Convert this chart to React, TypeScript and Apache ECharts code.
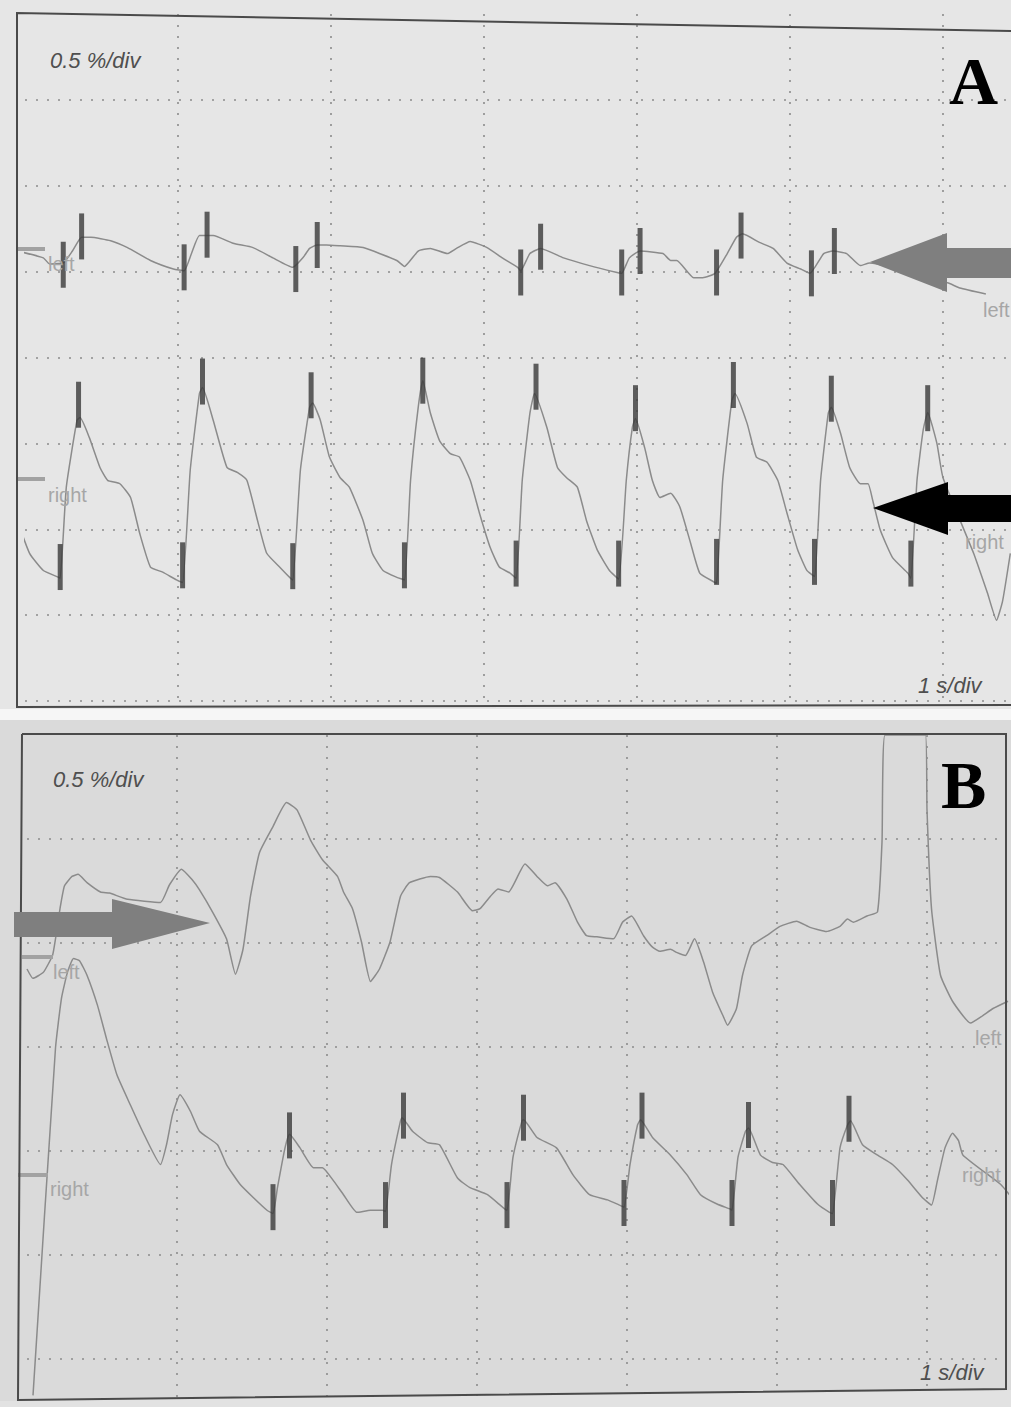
import { useEffect, useRef } from "react";
import * as echarts from "echarts";

type P = [number, number];

// Scale texts and channel names as printed on the recorder
const yScaleLabel = "0.5 %/div";
const xScaleLabel = "1 s/div";
const channelNames = ["left", "right"];
const panelLetters = ["A", "B"];

// ---------- Panel A (time in s, 1 s/div; signal in divisions, 0.5 %/div, 0 = bottom of display)
const aLeftTrace: P[] = [
  [-0.05, 5.24], [0.12, 5.16], [0.16, 5.09], [0.25, 5.1], [0.31, 5.24], [0.37, 5.4], [0.43, 5.4],
  [0.56, 5.36], [0.67, 5.28], [0.82, 5.13], [0.97, 5.03], [1.04, 5.01], [1.09, 5.22], [1.14, 5.42],
  [1.23, 5.42], [1.36, 5.33], [1.49, 5.28], [1.62, 5.16], [1.75, 5.05], [1.82, 5.17], [1.86, 5.27],
  [1.91, 5.31], [1.97, 5.31], [2.06, 5.3], [2.21, 5.28], [2.43, 5.13], [2.48, 5.06], [2.57, 5.24],
  [2.65, 5.27], [2.76, 5.21], [2.82, 5.27], [2.91, 5.35], [3.02, 5.28], [3.12, 5.16], [3.22, 5.05],
  [3.24, 5.01], [3.3, 5.21], [3.37, 5.27], [3.52, 5.16], [3.69, 5.07], [3.87, 4.99], [3.9, 4.98],
  [3.95, 5.16], [4.02, 5.24], [4.17, 5.21], [4.22, 5.13], [4.26, 5.13], [4.37, 4.93], [4.43, 4.93],
  [4.51, 4.98], [4.59, 5.21], [4.65, 5.4], [4.69, 5.44], [4.8, 5.34], [4.89, 5.27], [4.98, 5.1],
  [5.07, 5.03], [5.13, 4.98], [5.22, 5.21], [5.28, 5.24], [5.37, 5.21], [5.46, 5.07], [5.52, 5.1],
  [6.03, 4.87], [6.11, 4.81], [6.28, 4.74],
];
const aLeftTroughs: P[] = [
  [0.25, 5.08], [1.04, 5.05], [1.77, 5.03], [3.24, 4.99], [3.9, 4.99], [4.52, 4.99], [5.14, 4.98],
];
const aLeftPeaks: P[] = [
  [0.37, 5.41], [1.19, 5.43], [1.91, 5.31], [3.37, 5.29], [4.02, 5.24], [4.68, 5.42], [5.29, 5.24],
];

const aRightTrace: P[] = [
  [-0.05, 2.1], [0.03, 1.72], [0.12, 1.52], [0.22, 1.44], [0.23, 1.43], [0.27, 2.49], [0.34, 3.27],
  [0.36, 3.3], [0.42, 3.07], [0.49, 2.72], [0.54, 2.57], [0.62, 2.53], [0.69, 2.37], [0.75, 1.95],
  [0.82, 1.56], [0.9, 1.5], [0.99, 1.41], [1.03, 1.38], [1.08, 2.69], [1.14, 3.58], [1.16, 3.65],
  [1.23, 3.27], [1.32, 2.72], [1.39, 2.66], [1.45, 2.57], [1.52, 2.1], [1.58, 1.72], [1.67, 1.55],
  [1.73, 1.44], [1.75, 1.41], [1.8, 2.69], [1.86, 3.42], [1.88, 3.47], [1.93, 3.27], [1.99, 2.84],
  [2.06, 2.6], [2.12, 2.49], [2.21, 2.1], [2.27, 1.72], [2.34, 1.52], [2.43, 1.44], [2.48, 1.41],
  [2.52, 2.57], [2.57, 3.42], [2.6, 3.73], [2.65, 3.35], [2.71, 3.03], [2.78, 2.88], [2.84, 2.84],
  [2.91, 2.57], [2.97, 2.19], [3.04, 1.79], [3.1, 1.56], [3.17, 1.49], [3.21, 1.43], [3.25, 2.57],
  [3.3, 3.35], [3.33, 3.58], [3.41, 3.19], [3.48, 2.72], [3.54, 2.6], [3.61, 2.49], [3.67, 2.1],
  [3.74, 1.76], [3.82, 1.52], [3.88, 1.42], [3.93, 2.57], [3.97, 3.19], [3.99, 3.29], [4.05, 2.95],
  [4.1, 2.57], [4.15, 2.37], [4.22, 2.42], [4.28, 2.26], [4.35, 1.84], [4.41, 1.49], [4.51, 1.38],
  [4.52, 1.37], [4.56, 2.57], [4.62, 3.5], [4.64, 3.58], [4.72, 3.23], [4.78, 2.84], [4.85, 2.78],
  [4.92, 2.57], [4.98, 2.19], [5.05, 1.76], [5.11, 1.52], [5.16, 1.45], [5.2, 2.57], [5.25, 3.35],
  [5.27, 3.42], [5.33, 3.12], [5.39, 2.72], [5.46, 2.53], [5.51, 2.53], [5.54, 2.34], [5.59, 1.99],
  [5.67, 1.67], [5.77, 1.49], [5.79, 1.43], [5.83, 2.57], [5.87, 3.15], [5.9, 3.36], [5.96, 3.0],
  [6.0, 2.6], [6.2, 1.72], [6.29, 1.26], [6.35, 0.94], [6.39, 1.17], [6.44, 1.72],
];
const aRightTroughs: P[] = [
  [0.23, 1.56], [1.03, 1.58], [1.75, 1.57], [2.48, 1.58], [3.21, 1.6], [3.88, 1.6], [4.52, 1.62],
  [5.16, 1.62], [5.79, 1.6],
];
const aRightPeaks: P[] = [
  [0.35, 3.45], [1.16, 3.72], [1.87, 3.56], [2.6, 3.73], [3.34, 3.66], [3.99, 3.41], [4.63, 3.68],
  [5.27, 3.52], [5.9, 3.41],
];

// ---------- Panel B (7 = top of display; the left channel saturates at the top near 5.7-6 s)
const bLeftTrace: P[] = [
  [0, 4.75], [0.04, 4.66], [0.11, 4.72], [0.17, 4.88], [0.19, 5.04], [0.22, 5.33], [0.25, 5.55],
  [0.3, 5.64], [0.34, 5.66], [0.4, 5.58], [0.49, 5.49], [0.55, 5.48], [0.67, 5.42], [0.89, 5.39],
  [0.95, 5.56], [1.03, 5.71], [1.1, 5.61], [1.15, 5.51], [1.24, 5.29], [1.33, 5.04], [1.39, 4.7],
  [1.44, 4.94], [1.49, 5.45], [1.55, 5.87], [1.64, 6.12], [1.73, 6.35], [1.8, 6.28], [1.89, 5.99],
  [1.97, 5.8], [2.07, 5.64], [2.11, 5.49], [2.17, 5.33], [2.23, 5.01], [2.29, 4.63], [2.35, 4.75],
  [2.42, 5.01], [2.49, 5.45], [2.55, 5.58], [2.69, 5.64], [2.75, 5.63], [2.87, 5.49], [2.97, 5.31],
  [3.02, 5.33], [3.09, 5.45], [3.14, 5.52], [3.21, 5.49], [3.32, 5.76], [3.4, 5.64], [3.47, 5.55],
  [3.52, 5.58], [3.6, 5.42], [3.67, 5.2], [3.73, 5.07], [3.8, 5.06], [3.91, 5.04], [3.97, 5.2],
  [4.03, 5.26], [4.11, 5.07], [4.17, 4.96], [4.22, 4.92], [4.29, 4.94], [4.33, 4.91], [4.39, 4.88],
  [4.45, 5.04], [4.51, 4.82], [4.57, 4.53], [4.64, 4.3], [4.67, 4.21], [4.73, 4.37], [4.77, 4.69],
  [4.83, 4.97], [4.93, 5.07], [5.02, 5.16], [5.13, 5.21], [5.22, 5.15], [5.33, 5.11], [5.42, 5.16],
  [5.47, 5.23], [5.51, 5.2], [5.6, 5.26], [5.67, 5.3], [5.7, 5.97], [5.72, 7], [5.99, 7], [6.0, 6.28],
  [6.03, 5.33], [6.09, 4.69], [6.17, 4.44], [6.29, 4.23], [6.37, 4.3], [6.44, 4.37], [6.54, 4.44],
];
const bRightTrace: P[] = [
  [0.04, 0.65], [0.19, 3.99], [0.23, 4.47], [0.27, 4.72], [0.31, 4.85], [0.35, 4.83], [0.4, 4.69],
  [0.47, 4.4], [0.53, 4.08], [0.6, 3.73], [0.69, 3.44], [0.77, 3.19], [0.89, 2.87], [0.93, 3.06],
  [0.97, 3.35], [1.02, 3.54], [1.09, 3.38], [1.15, 3.19], [1.27, 3.06], [1.33, 2.87], [1.42, 2.68],
  [1.51, 2.55], [1.6, 2.43], [1.64, 2.4], [1.67, 2.65], [1.72, 3.03], [1.75, 3.16], [1.82, 3.03],
  [1.91, 2.84], [1.97, 2.84], [2.04, 2.72], [2.11, 2.58], [2.2, 2.41], [2.29, 2.43], [2.37, 2.43],
  [2.39, 2.42], [2.43, 2.87], [2.49, 3.29], [2.5, 3.32], [2.57, 3.19], [2.67, 3.08], [2.75, 3.06],
  [2.87, 2.74], [2.95, 2.65], [3.07, 2.58], [3.17, 2.46], [3.2, 2.43], [3.24, 2.94], [3.3, 3.29],
  [3.31, 3.3], [3.4, 3.13], [3.53, 3.03], [3.64, 2.77], [3.75, 2.58], [3.87, 2.53], [3.95, 2.48],
  [3.98, 2.46], [4.02, 2.87], [4.07, 3.25], [4.09, 3.3], [4.17, 3.13], [4.29, 2.96], [4.4, 2.77],
  [4.49, 2.58], [4.6, 2.49], [4.69, 2.44], [4.7, 2.43], [4.74, 2.94], [4.79, 3.19], [4.81, 3.22],
  [4.89, 2.96], [4.97, 2.89], [5.04, 2.87], [5.15, 2.68], [5.27, 2.49], [5.35, 2.41], [5.37, 2.4],
  [5.42, 3.03], [5.47, 3.25], [5.49, 3.29], [5.57, 3.06], [5.67, 2.96], [5.77, 2.87], [5.87, 2.72],
  [5.97, 2.55], [6.03, 2.48], [6.07, 2.72], [6.12, 3.03], [6.17, 3.17], [6.21, 3.1], [6.24, 2.96],
  [6.49, 2.68], [6.55, 2.58],
];
const bRightTroughs: P[] = [
  [1.64, 2.46], [2.39, 2.48], [3.2, 2.48], [3.98, 2.5], [4.7, 2.5], [5.37, 2.5],
];
const bRightPeaks: P[] = [
  [1.75, 3.15], [2.51, 3.34], [3.31, 3.32], [4.1, 3.34], [4.81, 3.25], [5.48, 3.31],
];

const TRACE = "#8b8b8b";
const BAR = "#3a3a3a";
const DOT = "#8c8c8c";
const LABEL = "#a6a6a6";
const SCALE_TXT = "#4f4f4f";
const FRAME = "#4a4a4a";

function splitStyle(extra: any = {}) {
  return {
    show: true,
    showMinLine: false,
    ...extra,
    lineStyle: { color: DOT, width: 1.6, type: [2, 9] },
  };
}

function axisBase() {
  return {
    type: "value" as const,
    axisLine: { show: false },
    axisTick: { show: false },
    axisLabel: { show: false },
  };
}

function traceSeries(data: P[], grid: number) {
  return {
    type: "line",
    xAxisIndex: grid,
    yAxisIndex: grid,
    data,
    showSymbol: false,
    smooth: 0.15,
    clip: false,
    lineStyle: { color: TRACE, width: 1.5 },
    z: 2,
    silent: true,
  };
}

function barSeries(data: P[], grid: number) {
  return {
    type: "scatter",
    xAxisIndex: grid,
    yAxisIndex: grid,
    data,
    symbol: "rect",
    symbolSize: [5, 46],
    itemStyle: { color: BAR },
    clip: false,
    z: 4,
    silent: true,
  };
}

function txt(text: string, x: number, y: number, size: number, fill: string, extra: any = {}) {
  return {
    type: "text",
    x,
    y,
    z: 20,
    silent: true,
    style: {
      text,
      fill,
      fontSize: size,
      fontFamily: "Liberation Sans",
      align: "left",
      verticalAlign: "middle",
      ...extra,
    },
  };
}

function marker(x1: number, x2: number, y: number) {
  return {
    type: "line",
    z: 20,
    silent: true,
    shape: { x1, y1: y, x2, y2: y },
    style: { stroke: "#a2a2a2", lineWidth: 4 },
  };
}

const graphic: any[] = [
  { type: "rect", z: -100, silent: true, shape: { x: 0, y: 0, width: 1011, height: 709 }, style: { fill: "#e6e6e6" } },
  { type: "rect", z: -100, silent: true, shape: { x: 0, y: 709, width: 1011, height: 11 }, style: { fill: "#f6f6f6" } },
  { type: "rect", z: -100, silent: true, shape: { x: 0, y: 720, width: 1011, height: 687 }, style: { fill: "#dadada" } },
  // paper below the bottom frame of B (hides grid running past the display)
  {
    type: "polygon", z: 25, silent: true,
    shape: { points: [[0, 1401], [18, 1401], [1006, 1390], [1011, 1390], [1011, 1407], [0, 1407]] },
    style: { fill: "#e2e2e2" },
  },
  // frames
  {
    type: "polyline", z: 30, silent: true,
    shape: { points: [[1011, 31], [17, 13], [17, 707], [1011, 705]] },
    style: { stroke: FRAME, lineWidth: 2, fill: null },
  },
  {
    type: "polyline", z: 30, silent: true,
    shape: { points: [[22, 734], [1006, 734], [1006, 1389], [18, 1400], [22, 734]] },
    style: { stroke: FRAME, lineWidth: 2, fill: null },
  },
  // scale texts
  txt(yScaleLabel, 50, 60, 22, SCALE_TXT, { fontStyle: "italic" }),
  txt(xScaleLabel, 918, 685, 22, SCALE_TXT, { fontStyle: "italic" }),
  txt(yScaleLabel, 53, 779, 22, SCALE_TXT, { fontStyle: "italic" }),
  txt(xScaleLabel, 920, 1372, 22, SCALE_TXT, { fontStyle: "italic" }),
  // panel letters
  txt(panelLetters[0], 949, 81, 68, "#000000", { fontFamily: "Liberation Serif", fontWeight: "bold" }),
  txt(panelLetters[1], 941, 785, 68, "#000000", { fontFamily: "Liberation Serif", fontWeight: "bold" }),
  // channel markers & labels
  marker(18, 45, 249),
  marker(18, 45, 479),
  marker(22, 53, 957),
  marker(18, 48, 1175),
  txt(channelNames[0], 48, 264, 20, LABEL),
  txt(channelNames[1], 48, 495, 20, LABEL),
  txt(channelNames[0], 983, 310, 20, LABEL),
  txt(channelNames[1], 965, 542, 20, LABEL),
  txt(channelNames[0], 53, 972, 20, LABEL),
  txt(channelNames[1], 50, 1189, 20, LABEL),
  txt(channelNames[0], 975, 1038, 20, LABEL),
  txt(channelNames[1], 962, 1175, 20, LABEL),
  // arrows
  {
    type: "polygon", z: 40, silent: true,
    shape: { points: [[870, 262], [947, 233], [947, 248], [1011, 248], [1011, 278], [947, 278], [947, 292]] },
    style: { fill: "#7f7f7f" },
  },
  {
    type: "polygon", z: 40, silent: true,
    shape: { points: [[873, 508], [948, 482], [948, 495], [1011, 495], [1011, 522], [948, 522], [948, 535]] },
    style: { fill: "#000000" },
  },
  {
    type: "polygon", z: 40, silent: true,
    shape: { points: [[210, 923], [112, 899], [112, 912], [14, 912], [14, 937], [112, 937], [112, 949]] },
    style: { fill: "#7f7f7f" },
  },
];

const option: any = {
  animation: false,
  backgroundColor: "#e4e4e4",
  grid: [
    { left: 25, top: 14, width: 986, height: 687, show: false, outerBoundsMode: "none" },
    { left: 27, top: 735, width: 980, height: 728, show: false, outerBoundsMode: "none" },
  ],
  xAxis: [
    { ...axisBase(), gridIndex: 0, min: 0, max: 6.4444, interval: 1, splitLine: splitStyle({ showMaxLine: false }) },
    { ...axisBase(), gridIndex: 1, min: 0, max: 6.5333, interval: 1, splitLine: splitStyle({ showMaxLine: false }) },
  ],
  yAxis: [
    { ...axisBase(), gridIndex: 0, min: 0, max: 8, interval: 1, splitLine: splitStyle({ showMinLine: true, showMaxLine: false }) },
    { ...axisBase(), gridIndex: 1, min: 0, max: 7, interval: 1, splitLine: splitStyle({ showMaxLine: false }) },
  ],
  series: [
    traceSeries(aLeftTrace, 0),
    traceSeries(aRightTrace, 0),
    barSeries(aLeftTroughs, 0),
    barSeries(aLeftPeaks, 0),
    barSeries(aRightTroughs, 0),
    barSeries(aRightPeaks, 0),
    traceSeries(bLeftTrace, 1),
    traceSeries(bRightTrace, 1),
    barSeries(bRightTroughs, 1),
    barSeries(bRightPeaks, 1),
  ],
  graphic,
};

export default function App() {
  const ref = useRef<HTMLDivElement>(null);
  useEffect(() => {
    if (!ref.current) return;
    const chart = echarts.init(ref.current, null, { renderer: "svg" });
    chart.setOption(option);
    return () => chart.dispose();
  }, []);
  return (
    <div
      ref={ref}
      style={{ position: "fixed", left: 0, top: 0, width: 1011, height: 1407 }}
    />
  );
}
